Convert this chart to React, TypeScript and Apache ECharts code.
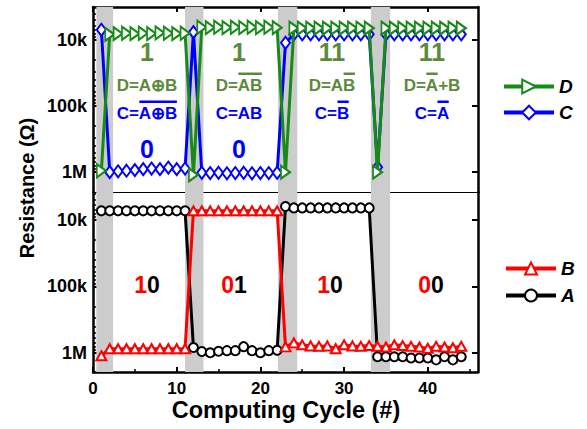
import React, { useEffect, useRef } from "react";
import * as echarts from "echarts";

// Computing cycle index of every measurement
const cycles = [
  1, 2, 3, 4, 5, 6, 7, 8, 9, 10, 11, 12, 13, 14, 15, 16, 17, 18, 19, 20, 21, 22,
  23, 24, 25, 26, 27, 28, 29, 30, 31, 32, 33, 34, 35, 36, 37, 38, 39, 40, 41, 42, 43, 44,
];

// Output resistances (ohm)
const resD = [
  950e3, 8.2e3, 8.0e3, 7.9e3, 8.0e3, 7.9e3, 8.0e3, 7.8e3, 7.9e3, 8.0e3, 7.9e3,
  1.1e6, 6.4e3, 6.5e3, 6.4e3, 6.5e3, 6.4e3, 6.5e3, 6.4e3, 6.5e3, 6.4e3, 6.5e3,
  1.0e6, 6.6e3, 6.6e3, 6.6e3, 6.6e3, 6.6e3, 6.6e3, 6.6e3, 6.6e3, 6.6e3, 6.6e3,
  1.0e6, 6.6e3, 6.6e3, 6.6e3, 6.6e3, 6.6e3, 6.6e3, 6.6e3, 6.6e3, 6.6e3, 6.6e3,
];
const resC = [
  7.0e3, 1.0e6, 0.97e6, 0.95e6, 0.93e6, 0.9e6, 0.88e6, 0.9e6, 0.85e6, 0.9e6, 0.88e6,
  7.6e3, 1.02e6, 1.03e6, 1.02e6, 1.04e6, 1.03e6, 1.02e6, 1.04e6, 1.03e6, 1.03e6, 1.02e6,
  11e3, 8.2e3, 8.2e3, 8.2e3, 8.2e3, 8.2e3, 8.2e3, 8.2e3, 8.2e3, 8.2e3, 8.2e3,
  0.84e6, 8.2e3, 8.2e3, 8.2e3, 8.2e3, 8.2e3, 8.2e3, 8.2e3, 8.2e3, 8.2e3, 8.2e3,
];
// Input resistances (ohm)
const resB = [
  1.11e6, 870e3, 870e3, 870e3, 870e3, 870e3, 870e3, 870e3, 870e3, 870e3, 870e3,
  7.3e3, 7.3e3, 7.3e3, 7.3e3, 7.3e3, 7.3e3, 7.3e3, 7.3e3, 7.3e3, 7.3e3, 7.3e3,
  815e3, 710e3, 760e3, 790e3, 800e3, 790e3, 870e3, 760e3, 790e3, 800e3, 780e3,
  800e3, 820e3, 760e3, 780e3, 800e3, 820e3, 860e3, 800e3, 820e3, 840e3, 800e3,
];
const resA = [
  7.3e3, 7.3e3, 7.3e3, 7.3e3, 7.3e3, 7.3e3, 7.3e3, 7.3e3, 7.3e3, 7.3e3, 7.3e3,
  835e3, 960e3, 1.0e6, 0.95e6, 0.93e6, 0.93e6, 0.81e6, 0.93e6, 1.0e6, 0.93e6, 0.92e6,
  6.3e3, 6.6e3, 6.6e3, 6.6e3, 6.6e3, 6.6e3, 6.6e3, 6.6e3, 6.6e3, 6.6e3, 6.6e3,
  1.15e6, 1.15e6, 1.15e6, 1.15e6, 1.2e6, 1.2e6, 1.2e6, 1.28e6, 1.15e6, 1.28e6, 1.15e6,
];

// Shaded write/reset windows (cycle ranges)
const bands = [
  [0.4, 2.4],
  [11, 13.2],
  [22.1, 24.4],
  [33.2, 35.5],
];

// Axis ticks
const xMajorTicks = [0, 10, 20, 30, 40];
const xMinorTicks = [5, 15, 25, 35, 45];
const decadeTicks = [4, 5, 6];
const decadeLabels = ["10k", "100k", "1M"];

// Logic annotations per segment
const topStates = ["1", "1", "11", "11"];
const zeroStates = ["0", "0", "", ""];
const dFormulas: [string, boolean][][] = [
  [["D=A\u2295B", false]],
  [["D=", false], ["AB", true]],
  [["D=A", false], ["B", true]],
  [["D=", false], ["A", true], ["+B", false]],
];
const cFormulas: [string, boolean][][] = [
  [["C=", false], ["A\u2295B", true]],
  [["C=AB", false]],
  [["C=", false], ["B", true]],
  [["C=", false], ["A", true]],
];
const inputStates = [
  ["1", "0"],
  ["0", "1"],
  ["1", "0"],
  ["0", "0"],
];

const FONT = '"Liberation Sans", Arial, Helvetica, sans-serif';
const GREEN = "#178a17";
const BLUE = "#0000ff";
const RED = "#ff0000";
const TEXT_GREEN = "#5b8a3c";
const BAND = "#cccccc";

const toLog = (vals: number[]) => cycles.map((c, i) => [c, Math.log10(vals[i])]);

function minorLogs(min: number, max: number) {
  const out: number[] = [];
  for (let d = 3; d <= 6; d++) {
    for (let m = 2; m <= 9; m++) {
      const v = Math.log10(m * Math.pow(10, d));
      if (v > min && v < max) out.push(v);
    }
  }
  return out;
}

function measure(text: string, font: string) {
  const ctx = document.createElement("canvas").getContext("2d")!;
  ctx.font = font;
  return ctx.measureText(text).width;
}

// Formula text with overline bars above the negated terms
function formulaElements(parts: [string, boolean][], cx: number, cy: number, color: string) {
  const font = `bold 17px ${FONT}`;
  const full = parts.map((p) => p[0]).join("");
  const total = measure(full, font);
  const els: any[] = [
    {
      type: "text",
      x: cx,
      y: cy,
      style: { text: full, font, fill: color, align: "center", verticalAlign: "middle" },
    },
  ];
  let x = cx - total / 2;
  for (const [t, over] of parts) {
    const w = measure(t, font);
    if (over) {
      els.push({
        type: "rect",
        shape: { x: x + 0.5, y: cy - 12.5, width: w - 1, height: 2.5 },
        style: { fill: color },
      });
    }
    x += w;
  }
  return els;
}

const TOP_RANGE = [3.5, 6.3];
const BOTTOM_RANGE = [3.58, 6.29];
const X_MAX = 46;

function yAxes(gridIndex: number, range: number[]) {
  const base = {
    type: "value",
    gridIndex,
    min: range[0],
    max: range[1],
    inverse: true,
    splitLine: { show: false },
  };
  return [
    {
      ...base,
      position: "left",
      axisLine: { show: true, onZero: false, lineStyle: { color: "#000", width: 2.5 } },
      axisTick: { show: true, inside: true, length: 6, customValues: decadeTicks, lineStyle: { color: "#000", width: 2 } },
      axisLabel: {
        show: true,
        customValues: decadeTicks,
        formatter: (v: number) => decadeLabels[decadeTicks.indexOf(Math.round(v))] ?? "",
        fontSize: 18,
        fontWeight: "bold",
        fontFamily: FONT,
        color: "#000",
        margin: 6,
      },
    },
    {
      ...base,
      position: "right",
      axisLine: { show: true, onZero: false, lineStyle: { color: "#000", width: 2.5 } },
      axisTick: { show: true, inside: true, length: 6, customValues: decadeTicks, lineStyle: { color: "#000", width: 2 } },
      axisLabel: { show: false },
    },
    {
      ...base,
      position: "left",
      axisLine: { show: false, onZero: false },
      axisTick: { show: true, inside: true, length: 3, customValues: minorLogs(range[0], range[1]), lineStyle: { color: "#000", width: 1.5 } },
      axisLabel: { show: false },
    },
  ];
}

export default function App() {
  const ref = useRef<HTMLDivElement>(null);

  useEffect(() => {
    document.body.style.margin = "0";
    const chart = echarts.init(ref.current!, null, { renderer: "svg" });

    const xBase = { type: "value", min: 0, max: X_MAX, splitLine: { show: false } };
    const segCenters = [147, 239, 332, 432];
    const inputCenters = [147, 234, 330, 431];

    const graphic: any[] = [
      {
        type: "text",
        x: 27,
        y: 188,
        rotation: Math.PI / 2,
        style: {
          text: "Resistance (\u03a9)",
          font: `bold 20px ${FONT}`,
          fill: "#000",
          align: "center",
          verticalAlign: "middle",
        },
      },
      {
        type: "text",
        x: 286,
        y: 410,
        style: {
          text: "Computing Cycle (#)",
          font: `bold 23.5px ${FONT}`,
          fill: "#000",
          align: "center",
          verticalAlign: "middle",
        },
      },
    ];
    segCenters.forEach((cx, i) => {
      graphic.push({
        type: "text",
        x: cx,
        y: 52,
        style: { text: topStates[i], font: `bold 25px ${FONT}`, fill: TEXT_GREEN, align: "center", verticalAlign: "middle" },
      });
      if (zeroStates[i]) {
        graphic.push({
          type: "text",
          x: cx,
          y: 149,
          style: { text: zeroStates[i], font: `bold 25px ${FONT}`, fill: BLUE, align: "center", verticalAlign: "middle" },
        });
      }
      graphic.push(...formulaElements(dFormulas[i], cx, 85, TEXT_GREEN));
      graphic.push(...formulaElements(cFormulas[i], cx, 113, BLUE));
    });
    inputCenters.forEach((cx, i) => {
      const rich = {
        r: { fill: RED, fontSize: 23, fontWeight: "bold", fontFamily: FONT },
        k: { fill: "#000", fontSize: 23, fontWeight: "bold", fontFamily: FONT },
      };
      graphic.push({
        type: "text",
        x: cx,
        y: 285,
        style: {
          text: `{r|${inputStates[i][0]}}{k|${inputStates[i][1]}}`,
          rich,
          font: `bold 23px ${FONT}`,
          align: "center",
          verticalAlign: "middle",
        },
      });
    });

    const legendText = { fontSize: 19, fontWeight: "bold", fontStyle: "italic", color: "#000", fontFamily: FONT };

    chart.setOption({
      animation: false,
      grid: [
        { left: 93, right: 109, top: 7, height: 185 },
        { left: 93, right: 109, top: 192, height: 180 },
      ],
      xAxis: [
        {
          ...xBase,
          gridIndex: 0,
          position: "bottom",
          axisLine: { show: true, onZero: false, lineStyle: { color: "#000", width: 1 } },
          axisTick: { show: false },
          axisLabel: { show: false },
        },
        {
          ...xBase,
          gridIndex: 0,
          position: "top",
          axisLine: { show: true, onZero: false, lineStyle: { color: "#000", width: 2.5 } },
          axisTick: { show: true, inside: true, length: 5, customValues: xMajorTicks, lineStyle: { color: "#000", width: 2 } },
          axisLabel: { show: false },
        },
        {
          ...xBase,
          gridIndex: 1,
          position: "bottom",
          axisLine: { show: true, onZero: false, lineStyle: { color: "#000", width: 2.5 } },
          axisTick: { show: true, inside: true, length: 5, customValues: xMajorTicks, lineStyle: { color: "#000", width: 2 } },
          axisLabel: {
            show: true,
            customValues: xMajorTicks,
            fontSize: 17,
            fontWeight: "bold",
            fontFamily: FONT,
            color: "#000",
            margin: 8,
          },
        },
        {
          ...xBase,
          gridIndex: 1,
          position: "bottom",
          axisLine: { show: false, onZero: false },
          axisTick: { show: true, inside: true, length: 3, customValues: xMinorTicks, lineStyle: { color: "#000", width: 1.5 } },
          axisLabel: { show: false },
        },
      ],
      yAxis: [...yAxes(0, TOP_RANGE), ...yAxes(1, BOTTOM_RANGE)],
      legend: [
        {
          data: ["D", "C"],
          orient: "vertical",
          left: 497,
          top: 72,
          itemWidth: 50,
          itemHeight: 17,
          itemGap: 7,
          selectedMode: false,
          lineStyle: { width: 4 },
          textStyle: legendText,
        },
        {
          data: ["B", "A"],
          orient: "vertical",
          left: 499,
          top: 254,
          itemWidth: 50,
          itemHeight: 15,
          itemGap: 8,
          selectedMode: false,
          lineStyle: { width: 4 },
          textStyle: legendText,
        },
      ],
      series: [
        {
          type: "line",
          xAxisIndex: 0,
          yAxisIndex: 0,
          data: [],
          z: 1,
          markArea: {
            silent: true,
            itemStyle: { color: BAND },
            data: bands.map(([a, b]) => [{ xAxis: a }, { xAxis: b }]),
          },
        },
        {
          type: "line",
          xAxisIndex: 2,
          yAxisIndex: 3,
          data: [],
          z: 1,
          markArea: {
            silent: true,
            itemStyle: { color: BAND },
            data: bands.map(([a, b]) => [{ xAxis: a }, { xAxis: b }]),
          },
        },
        {
          name: "C",
          type: "line",
          xAxisIndex: 0,
          yAxisIndex: 0,
          data: toLog(resC),
          symbol: "emptyDiamond",
          symbolSize: [9, 12],
          lineStyle: { color: BLUE, width: 3 },
          itemStyle: { color: BLUE, borderColor: BLUE, borderWidth: 2 },
          z: 3,
        },
        {
          name: "D",
          type: "line",
          xAxisIndex: 0,
          yAxisIndex: 0,
          data: toLog(resD),
          symbol: "emptyTriangle",
          symbolRotate: -90,
          symbolSize: [13, 9],
          lineStyle: { color: GREEN, width: 3 },
          itemStyle: { color: GREEN, borderColor: GREEN, borderWidth: 2 },
          z: 4,
        },
        {
          name: "A",
          type: "line",
          xAxisIndex: 2,
          yAxisIndex: 3,
          data: toLog(resA),
          symbol: "emptyCircle",
          symbolSize: 9,
          lineStyle: { color: "#000", width: 3 },
          itemStyle: { color: "#000", borderColor: "#000", borderWidth: 1.8 },
          z: 3,
        },
        {
          name: "B",
          type: "line",
          xAxisIndex: 2,
          yAxisIndex: 3,
          data: toLog(resB),
          symbol: "emptyTriangle",
          symbolSize: [10, 9],
          lineStyle: { color: RED, width: 3 },
          itemStyle: { color: RED, borderColor: RED, borderWidth: 2 },
          z: 4,
        },
      ],
      graphic,
    });

    return () => chart.dispose();
  }, []);

  return <div ref={ref} style={{ width: 587, height: 429 }} />;
}
